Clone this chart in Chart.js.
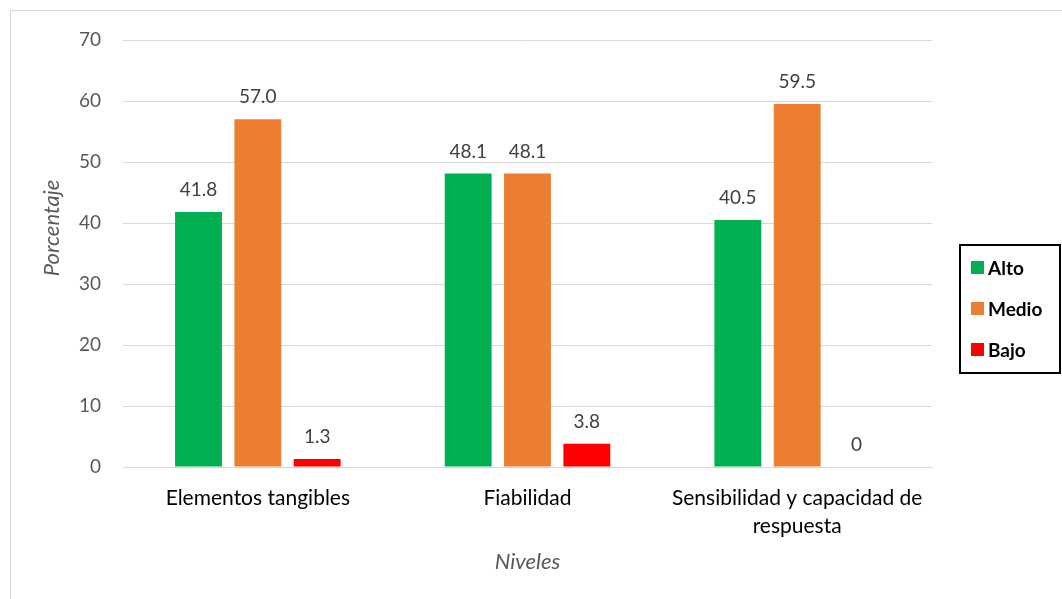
<!DOCTYPE html>
<html>
<head>
<meta charset="utf-8">
<script src="https://cdn.jsdelivr.net/npm/chart.js@4"></script>
<style>
    html, body { margin: 0; padding: 0; background: #fff; }
    #wrap { position: relative; width: 1062px; height: 599px; }
</style>
</head>
<body>
<div id="wrap"><canvas id="chart"></canvas></div>
<script>
// Data
const categories = ['Elementos tangibles', 'Fiabilidad', ['Sensibilidad y capacidad de', 'respuesta']];
const seriesNames = ['Alto', 'Medio', 'Bajo'];
const alto = [41.8, 48.1, 40.5];
const medio = [57.0, 48.1, 59.5];
const bajo = [1.3, 3.8, 0];
const yTicks = [0, 10, 20, 30, 40, 50, 60, 70];

const colors = ['#00B050', '#ED7D31', '#FF0000'];
const FONT = 'Lato, "Open Sans", sans-serif';

// white background, thin outer frame, rotated y title
const framePlugin = {
    id: 'frame',
    beforeDraw(chart) {
        const ctx = chart.ctx;
        ctx.save();
        ctx.fillStyle = '#fff';
        ctx.fillRect(0, 0, chart.width, chart.height);
        ctx.strokeStyle = '#d9d9d9';
        ctx.lineWidth = 1;
        ctx.strokeRect(10.5, 10.5, chart.width, chart.height);
        ctx.translate(52, 228);
        ctx.rotate(-Math.PI / 2);
        ctx.font = 'italic 22px ' + FONT;
        ctx.fillStyle = '#595959';
        ctx.textAlign = 'center';
        ctx.textBaseline = 'middle';
        ctx.fillText('Porcentaje', 0, 0);
        ctx.restore();
    }
};

// value labels above each bar
const valueLabels = {
    id: 'valueLabels',
    afterDatasetsDraw(chart) {
        const ctx = chart.ctx;
        ctx.save();
        ctx.font = '19px ' + FONT;
        ctx.fillStyle = '#404040';
        ctx.textAlign = 'center';
        ctx.textBaseline = 'alphabetic';
        chart.data.datasets.forEach((ds, i) => {
            chart.getDatasetMeta(i).data.forEach((bar, j) => {
                const v = ds.data[j];
                const txt = v === 0 ? '0' : v.toFixed(1);
                ctx.fillText(txt, bar.x, bar.y - 16);
            });
        });
        ctx.restore();
    }
};

// boxed legend on the right
const boxLegend = {
    id: 'boxLegend',
    afterDraw(chart) {
        const ctx = chart.ctx;
        const x = 960, y = 245, w = 100, h = 128;
        ctx.save();
        ctx.strokeStyle = '#000';
        ctx.lineWidth = 2;
        ctx.strokeRect(x, y, w, h);
        ctx.font = 'bold 19px ' + FONT;
        ctx.textBaseline = 'middle';
        chart.data.datasets.forEach((ds, i) => {
            const cy = y + 23 + i * 41;
            ctx.fillStyle = ds.backgroundColor;
            ctx.fillRect(x + 11, cy - 7, 13, 13);
            ctx.fillStyle = '#000';
            ctx.fillText(ds.label, x + 28, cy + 1);
        });
        ctx.restore();
    }
};

new Chart(document.getElementById('chart'), {
    type: 'bar',
    data: {
        labels: categories,
        datasets: [alto, medio, bajo].map((d, i) => ({
            label: seriesNames[i],
            data: d,
            backgroundColor: colors[i],
            categoryPercentage: 0.66,
            barPercentage: 0.79
        }))
    },
    options: {
        responsive: true,
        maintainAspectRatio: false,
        animation: false,
        layout: { padding: { left: 10, top: 40, right: 130, bottom: 0 } },
        plugins: {
            legend: { display: false },
            tooltip: { enabled: false }
        },
        scales: {
            x: {
                grid: { display: false },
                border: { color: '#d9d9d9', width: 1 },
                ticks: {
                    color: '#000',
                    font: { family: FONT, size: 21, lineHeight: 1.33 },
                    padding: 9,
                    maxRotation: 0,
                    autoSkip: false
                },
                title: {
                    display: true,
                    text: 'Niveles',
                    color: '#595959',
                    font: { family: FONT, size: 22, style: 'italic' },
                    padding: { top: 0, bottom: 24 }
                },
                afterFit(scale) { scale.height = 132; }
            },
            y: {
                min: 0,
                max: 70,
                afterBuildTicks(scale) { scale.ticks = yTicks.map(v => ({ value: v })); },
                grid: { color: '#d9d9d9', drawTicks: false },
                border: { display: false },
                ticks: {
                    color: '#595959',
                    font: { family: FONT, size: 19 },
                    padding: 22
                },
                afterFit(scale) { scale.width = 113; }
            }
        }
    },
    plugins: [framePlugin, valueLabels, boxLegend]
});
</script>
</body>
</html>
